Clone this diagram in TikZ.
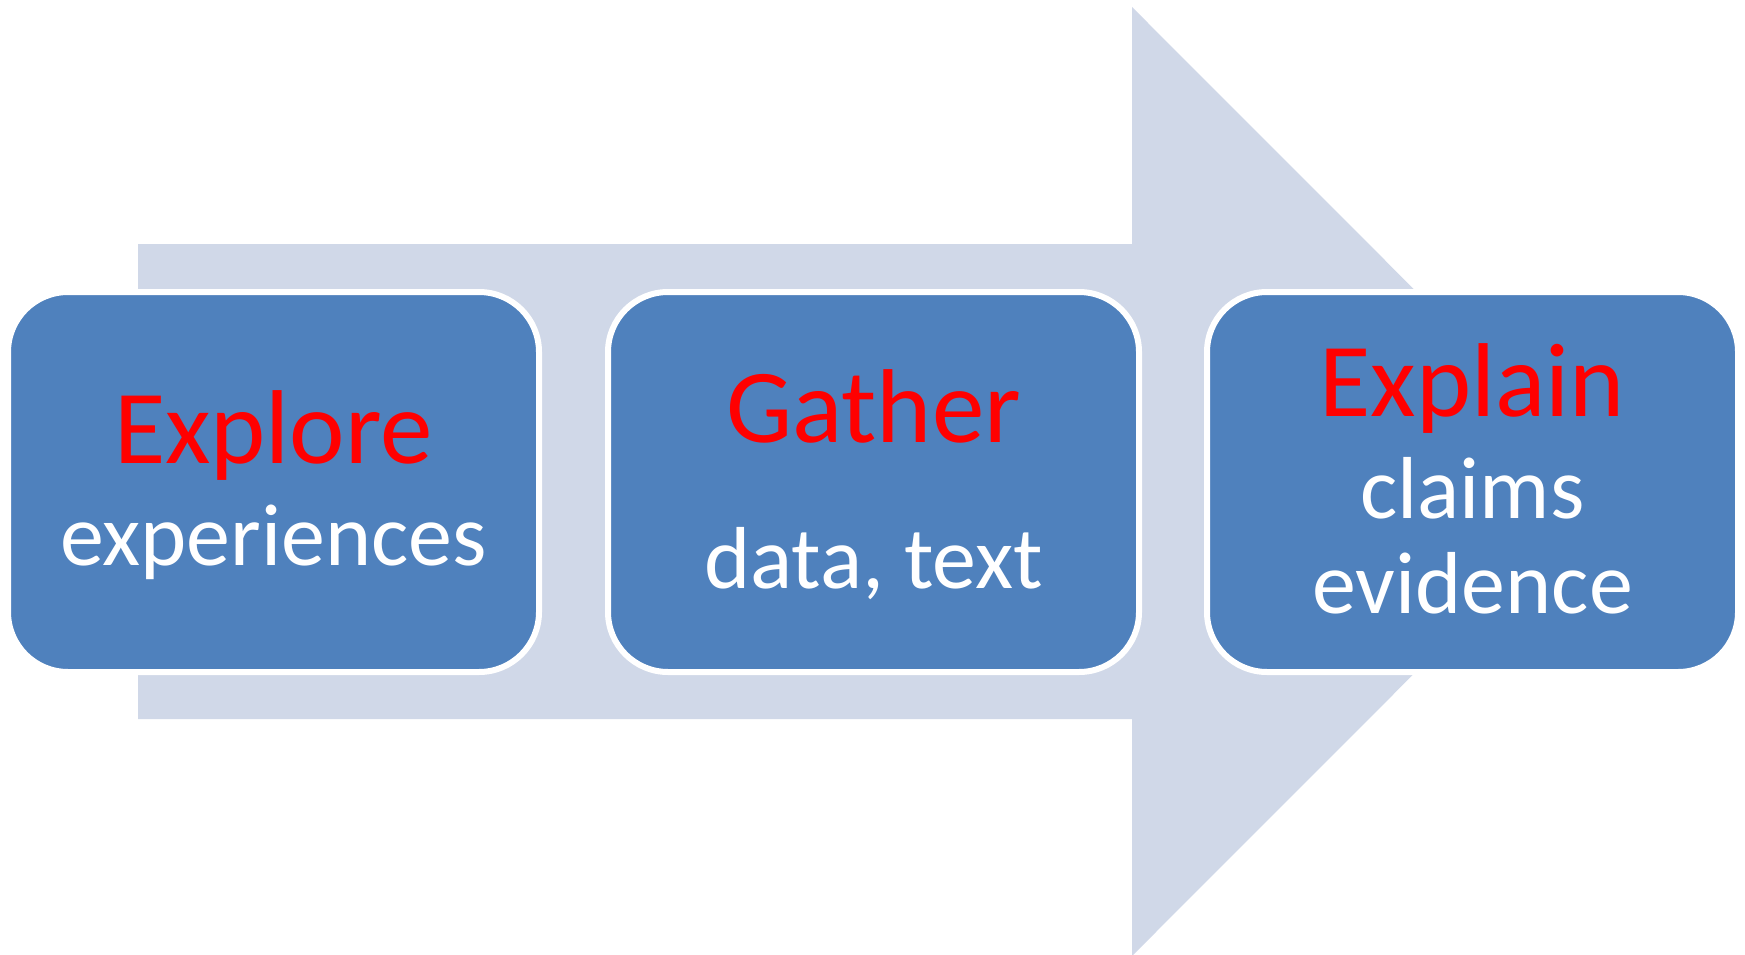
\documentclass[tikz,border=0pt]{standalone}
\usepackage{fontspec}
\setmainfont{Carlito}
\definecolor{arrowgray}{HTML}{D0D8E8}
\definecolor{boxblue}{HTML}{4F81BD}
\definecolor{hdrred}{HTML}{FF0000}
\tikzset{
  stagebox/.style={rectangle, rounded corners=60pt, fill=boxblue, draw=white,
    line width=6pt, minimum width=531pt, minimum height=380pt, inner sep=0pt},
  hdr/.style={anchor=base, inner sep=0pt, text=hdrred, font=\fontsize{105}{110}\selectfont},
  sub/.style={anchor=base, inner sep=0pt, text=white, font=\fontsize{88}{95}\selectfont}
}
\begin{document}
\begin{tikzpicture}[x=1pt, y=-1pt]
\useasboundingbox (0,0) rectangle (1745,955);
% big background arrow
\fill[arrowgray] (138,244) -- (1132,244) -- (1132,7) -- (1606,481.5)
  -- (1132,956) -- (1132,719) -- (138,719) -- cycle;
% stage boxes
\node[stagebox] (b1) at (273.5,482) {};
\node[stagebox] (b2) at (873.5,482) {};
\node[stagebox] (b3) at (1472.5,482) {};
% texts
\node[hdr] (h1) at (273.5,463) {Explore};
\node[sub] (s1) at (273.5,565) {experiences};
\node[hdr] (h2) at (873.5,442) {Gather};
\node[sub] (s2) at (873.5,588) {data, text};
\node[hdr] (h3) at (1472.5,416) {Explain};
\node[sub] (s3a) at (1472.5,518) {claims};
\node[sub] (s3b) at (1472.5,613) {evidence};
\end{tikzpicture}
\end{document}
